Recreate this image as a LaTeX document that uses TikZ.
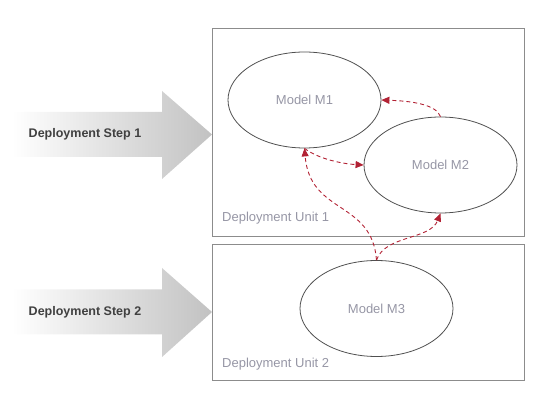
\documentclass[tikz,border=0pt]{standalone}
\usepackage{fontspec}
\setmainfont{Liberation Sans}
\usetikzlibrary{shapes.geometric,arrows.meta}
\definecolor{linkred}{RGB}{178,34,52}
\definecolor{labelgray}{RGB}{150,150,165}
\definecolor{steptext}{RGB}{64,64,64}
\definecolor{boxgray}{RGB}{140,140,140}
\definecolor{ellgray}{RGB}{80,80,80}
\begin{document}
\begin{tikzpicture}[x=1pt,y=-1pt,
  unitbox/.style={draw=boxgray,line width=0.8pt},
  model/.style={ellipse,draw=ellgray,line width=0.8pt,minimum width=153pt,minimum height=96pt,inner sep=0pt,
    text=labelgray,font=\fontsize{13}{15}\selectfont},
  unitlabel/.style={anchor=west,text=labelgray,font=\fontsize{13}{15}\selectfont,inner sep=0pt},
  steplabel/.style={text=steptext,font=\bfseries\fontsize{12.5}{14}\selectfont,inner sep=0pt},
  stepshape/.style={left color=white,right color=black!24,draw=none},
  link/.style={draw=linkred,line width=0.9pt,dash pattern=on 4pt off 3pt,
    -{Triangle[length=8pt,width=7pt,fill=linkred]}}
]
\useasboundingbox (0,0) rectangle (549,403);
% step arrows
\path[stepshape] (12,112) -- (162,112) -- (162,91) -- (212,134.5) -- (162,179) -- (162,157) -- (12,157) -- cycle;
\path[stepshape] (12,289.5) -- (162,289.5) -- (162,268) -- (212,312) -- (162,357) -- (162,334.5) -- (12,334.5) -- cycle;
\node[steplabel] (s1) at (85,134) {Deployment Step 1};
\node[steplabel] (s2) at (85,312) {Deployment Step 2};
% unit boxes
\draw[unitbox] (212,28) rectangle (524,236);
\draw[unitbox] (212,244) rectangle (524,380);
\node[unitlabel] (u1) at (222,218) {Deployment Unit 1};
\node[unitlabel] (u2) at (222,364) {Deployment Unit 2};
% models
\node[model] (m1) at (304.5,100) {Model M1};
\node[model] (m2) at (440.5,165) {Model M2};
\node[model] (m3) at (376.5,308.5) {Model M3};
% links
\draw[link] (m2.north) .. controls (436,104) and (410,101) .. (m1.east);
\draw[link] (m1.south) .. controls (320,160) and (345,164) .. (m2.west);
\draw[link] (m3.north) .. controls (372,200) and (310,215) .. (m1.south);
\draw[link] (m3.north) .. controls (385,235) and (430,240) .. (m2.south);
\end{tikzpicture}
\end{document}
